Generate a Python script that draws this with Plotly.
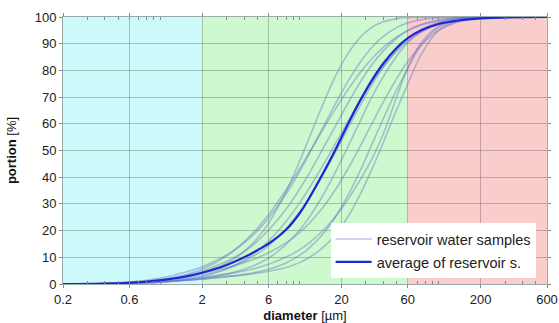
import math
import plotly.graph_objects as go

# particle diameters [µm] at which the cumulative portions are tabulated
diameter = [0.2, 0.4, 0.6, 1, 1.5, 2, 3, 4, 5, 6, 8, 10, 12, 15, 18, 22, 27, 33,
            40, 50, 60, 75, 100, 150, 200, 600]

# cumulative portion [%] of each reservoir water sample
sample_01 = [0, 0.1, 0.4, 1.4, 2.8, 4.3, 7.8, 12.1, 17.2, 22.8, 34.6, 45.9, 55.9,
             68.3, 77.5, 85.8, 92.1, 96.1, 98.2, 99.4, 99.8, 99.9, 100, 100, 100, 100]
sample_02 = [0, 0.2, 0.6, 1.6, 3.4, 5.6, 10.5, 15.8, 21.0, 26.0, 35.2, 43.1, 50.0,
             58.5, 65.3, 72.3, 78.8, 84.3, 88.6, 92.5, 94.9, 97.0, 98.6, 99.6, 99.9, 100]
sample_03 = [0, 0.2, 0.7, 2.2, 4.4, 6.5, 10.9, 15.4, 20.0, 24.7, 33.7, 42.1, 49.7,
             59.4, 67.2, 75.4, 82.7, 88.6, 92.7, 96.1, 97.8, 99.0, 99.7, 100, 100, 100]
sample_04 = [0, 0.1, 0.5, 1.6, 3.2, 4.9, 8.5, 12.2, 16.1, 20.2, 28.0, 35.5, 42.3,
             51.4, 58.9, 67.2, 75.1, 82.0, 87.3, 92.1, 95.0, 97.3, 98.9, 99.8, 100, 100]
sample_05 = [0, 0.1, 0.3, 0.7, 1.6, 2.8, 5.6, 8.9, 12.5, 16.1, 23.4, 30.3, 36.7,
             45.1, 52.3, 60.3, 68.2, 75.4, 81.4, 87.2, 90.9, 94.4, 97.3, 99.2, 99.7, 100]
sample_06 = [0, 0.1, 0.4, 1.1, 2.2, 3.4, 5.8, 8.5, 11.4, 14.4, 20.6, 27.0, 33.0,
             41.5, 49.0, 57.7, 66.4, 74.5, 81.3, 87.7, 91.8, 95.3, 98.0, 99.6, 99.9, 100]
sample_07 = [0, 0.1, 0.2, 0.7, 1.4, 2.2, 3.7, 5.5, 7.5, 9.7, 14.8, 20.1, 25.7,
             33.9, 41.6, 50.8, 60.5, 69.9, 77.7, 85.4, 90.4, 94.6, 97.8, 99.6, 99.9, 100]
sample_08 = [0, 0.2, 0.6, 1.6, 2.9, 4.1, 6.1, 8.0, 9.8, 11.7, 15.4, 19.2, 23.2,
             29.2, 35.1, 42.6, 51.1, 59.9, 68.1, 77.0, 83.3, 89.5, 95.0, 98.7, 99.6, 100]
sample_09 = [0, 0.1, 0.2, 0.7, 1.3, 1.8, 2.7, 3.6, 4.5, 5.5, 7.9, 10.7, 13.9,
             19.2, 24.9, 32.6, 41.9, 52.1, 61.9, 72.8, 80.7, 89.5, 96.0, 99.2, 99.8, 100]
sample_10 = [0, 0.1, 0.4, 0.9, 1.4, 1.9, 2.8, 3.4, 4.1, 4.8, 6.2, 8.0, 10.2,
             14.0, 18.3, 24.7, 33.0, 42.8, 53.0, 65.4, 74.9, 86.0, 95.0, 99.0, 99.8, 100]
sample_11 = [0, 0.2, 0.4, 1.0, 1.7, 2.4, 3.7, 4.9, 6.1, 7.4, 10.1, 12.8, 15.8,
             20.4, 25.0, 31.2, 38.6, 46.7, 56.2, 70.1, 81.1, 90.5, 96.5, 99.3, 99.8, 100]

samples = [sample_01, sample_02, sample_03, sample_04, sample_05, sample_06,
           sample_07, sample_08, sample_09, sample_10, sample_11]

# average curve of the reservoir samples
average = [0, 0.16, 0.47, 1.4, 2.7, 4.2, 7.1, 10.0, 12.7, 15.1, 20.3, 26.4, 33.0,
           42.1, 50.0, 59.3, 68.3, 76.2, 82.6, 88.5, 92.1, 95.0, 97.4, 98.9, 99.5, 100]

x_ticks = [0.2, 0.6, 2, 6, 20, 60, 200, 600]
y_ticks = list(range(0, 101, 10))

# size classes shaded behind the curves: (from, to, colour)
bands = [(0.2, 2, "rgb(205,249,250)"),
         (2, 60, "rgb(206,248,206)"),
         (60, 600, "rgb(250,205,205)")]

FONT = "Liberation Sans, Arial, sans-serif"

fig = go.Figure()

for i, s in enumerate(samples):
    fig.add_trace(go.Scatter(
        x=diameter, y=s, mode="lines",
        line=dict(color="rgba(95,115,195,0.42)", width=1.6, shape="spline",
                  smoothing=1.0),
        name="reservoir water samples", legendgroup="samples",
        showlegend=(i == 0), hoverinfo="skip"))

fig.add_trace(go.Scatter(
    x=diameter, y=average, mode="lines",
    line=dict(color="rgb(25,40,215)", width=2.2, shape="spline", smoothing=1.0),
    name="average of reservoir s.", legendgroup="average"))

for x0, x1, col in bands:
    fig.add_shape(type="rect", xref="x", yref="y", x0=x0, x1=x1, y0=0, y1=100,
                  fillcolor=col, line_width=0, layer="below")

minor_vals = [k * 10 ** n for n in range(-1, 3) for k in range(1, 10)
              if 0.2 < k * 10 ** n < 600 and k * 10 ** n not in x_ticks]

fig.update_xaxes(
    type="log", range=[math.log10(0.2), math.log10(600)], automargin=False,
    tickvals=x_ticks, ticktext=[str(v) for v in x_ticks],
    showgrid=True, gridcolor="rgba(0,0,0,0.22)", gridwidth=1,
    ticks="outside", ticklen=3, tickcolor="#888",
    minor=dict(tickvals=minor_vals, ticks="inside", ticklen=3,
               tickcolor="#888", showgrid=False),
    showline=True, linecolor="#9aa", linewidth=1, mirror="ticks",
    zeroline=False,
    tickfont=dict(family=FONT, size=13, color="#222"),
    title=dict(text="<b>diameter</b> [µm]",
               font=dict(family=FONT, size=13, color="#111")))

fig.update_yaxes(
    range=[0, 100], tickvals=y_ticks, automargin=False,
    showgrid=True, gridcolor="rgba(0,0,0,0.22)", gridwidth=1,
    ticks="outside", ticklen=3, tickcolor="#888",
    showline=True, linecolor="#9aa", linewidth=1, mirror="ticks",
    zeroline=False,
    tickfont=dict(family=FONT, size=13, color="#222"),
    title=dict(text="<b>portion</b> [%]",
               font=dict(family=FONT, size=13, color="#111")))

fig.update_layout(
    width=559, height=323,
    margin=dict(l=63, r=12, t=17, b=39),
    paper_bgcolor="white", plot_bgcolor="white",
    showlegend=True,
    legend=dict(x=0.553, y=0.022, xanchor="left", yanchor="bottom",
                bgcolor="white", borderwidth=0, itemwidth=36,
                traceorder="grouped", tracegroupgap=1,
                font=dict(family=FONT, size=14.5, color="#222")),
)

fig.write_html("out.html")
